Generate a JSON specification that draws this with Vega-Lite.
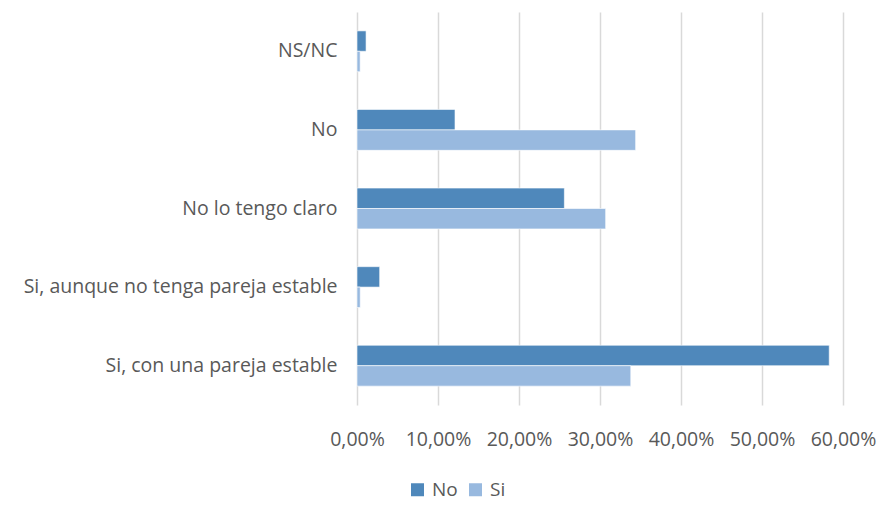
{
  "$schema": "https://vega.github.io/schema/vega-lite/v6.json",
  "width": 486,
  "height": 393,
  "autosize": "none",
  "padding": {"left": 357, "top": 12, "right": 44, "bottom": 103},
  "background": "white",
  "config": {
    "font": "Open Sans",
    "view": {"stroke": null}
  },
  "data": {
    "values": [
      {"categoria": "NS/NC", "serie": "No", "valor": 0.0112},
      {"categoria": "NS/NC", "serie": "Si", "valor": 0.0039},
      {"categoria": "No", "serie": "No", "valor": 0.121},
      {"categoria": "No", "serie": "Si", "valor": 0.344},
      {"categoria": "No lo tengo claro", "serie": "No", "valor": 0.256},
      {"categoria": "No lo tengo claro", "serie": "Si", "valor": 0.307},
      {"categoria": "Si, aunque no tenga pareja estable", "serie": "No", "valor": 0.028},
      {"categoria": "Si, aunque no tenga pareja estable", "serie": "Si", "valor": 0.004},
      {"categoria": "Si, con una pareja estable", "serie": "No", "valor": 0.583},
      {"categoria": "Si, con una pareja estable", "serie": "Si", "valor": 0.338}
    ]
  },
  "mark": {"type": "bar", "stroke": "white", "strokeWidth": 0.6},
  "encoding": {
    "y": {
      "field": "categoria",
      "type": "nominal",
      "sort": ["NS/NC", "No", "No lo tengo claro", "Si, aunque no tenga pareja estable", "Si, con una pareja estable"],
      "scale": {"paddingInner": 0.48, "paddingOuter": 0.24},
      "axis": {
        "title": null,
        "domain": false,
        "ticks": false,
        "labelFontSize": 19.5,
        "labelColor": "#595959",
        "labelPadding": 20,
        "labelLimit": 400
      }
    },
    "yOffset": {"field": "serie", "type": "nominal", "sort": ["No", "Si"]},
    "x": {
      "field": "valor",
      "type": "quantitative",
      "scale": {"domain": [0, 0.6], "nice": false},
      "axis": {
        "title": null,
        "values": [0, 0.1, 0.2, 0.3, 0.4, 0.5, 0.6],
        "labelExpr": "replace(format(datum.value, '.2%'), '.', ',')",
        "labelFlush": false,
        "labelOverlap": false,
        "domain": false,
        "ticks": false,
        "grid": true,
        "gridColor": "#d9d9d9",
        "gridWidth": 1.5,
        "labelFontSize": 19.5,
        "labelColor": "#595959",
        "labelPadding": 25
      }
    },
    "color": {
      "field": "serie",
      "type": "nominal",
      "scale": {"domain": ["No", "Si"], "range": ["#4f88bb", "#98b9df"]},
      "legend": {
        "title": null,
        "orient": "none",
        "direction": "horizontal",
        "legendX": 51,
        "legendY": 468,
        "symbolType": "square",
        "symbolSize": 169,
        "symbolStrokeWidth": 0,
        "labelFontSize": 19,
        "labelColor": "#595959",
        "columnPadding": 8,
        "labelOffset": 5
      }
    }
  }
}
